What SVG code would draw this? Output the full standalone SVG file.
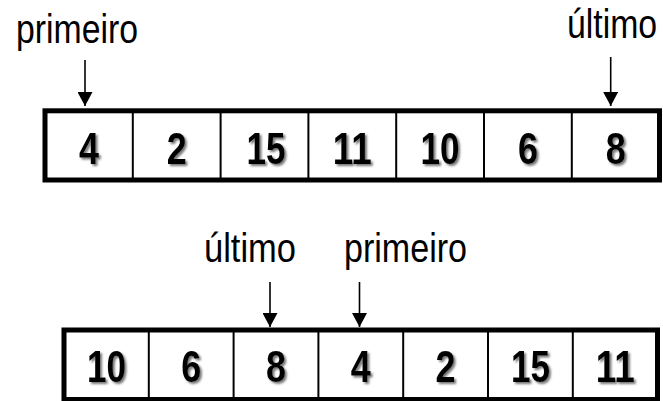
<svg xmlns="http://www.w3.org/2000/svg" width="663" height="401" viewBox="0 0 663 401">
<style>
.lbl{font-family:"Liberation Sans",Arial,sans-serif;font-size:40px;fill:#000}
.num{font-family:"Liberation Sans",Arial,sans-serif;font-size:45px;font-weight:bold;fill:#000;text-anchor:middle;filter:url(#sh)}
.outer{fill:#fff;stroke:#000;stroke-width:5}
.div{stroke:#000;stroke-width:2}
.arr{stroke:#000;stroke-width:1.6;fill:none;marker-end:url(#ah)}
</style>
<defs>
<filter id="sh" x="-30%" y="-30%" width="160%" height="160%">
<feDropShadow dx="2" dy="2" stdDeviation="1.2" flood-color="#555" flood-opacity="0.8"/>
</filter>
<marker id="ah" markerUnits="userSpaceOnUse" markerWidth="16" markerHeight="15" refX="14" refY="7.5" orient="auto">
<path d="M0,0 L14,7.5 L0,15 Z" fill="#000"/>
</marker>
</defs>
<rect width="663" height="401" fill="#fff"/>

<g id="array1">
<rect class="outer" x="45" y="110.8" width="614.5" height="69.2"/>
<g class="div">
<line x1="132.8" y1="110.8" x2="132.8" y2="180"/>
<line x1="220.6" y1="110.8" x2="220.6" y2="180"/>
<line x1="308.4" y1="110.8" x2="308.4" y2="180"/>
<line x1="396.2" y1="110.8" x2="396.2" y2="180"/>
<line x1="484" y1="110.8" x2="484" y2="180"/>
<line x1="571.8" y1="110.8" x2="571.8" y2="180"/>
</g>
<g id="a1c0"><text class="num" x="88.9" y="164" textLength="20" lengthAdjust="spacingAndGlyphs">4</text></g>
<g id="a1c1"><text class="num" x="176.7" y="164" textLength="20" lengthAdjust="spacingAndGlyphs">2</text></g>
<g id="a1c2"><text class="num" x="266" y="164" textLength="39" lengthAdjust="spacingAndGlyphs">15</text></g>
<g id="a1c3"><text class="num" x="352.3" y="164" textLength="39" lengthAdjust="spacingAndGlyphs">11</text></g>
<g id="a1c4"><text class="num" x="440.1" y="164" textLength="39" lengthAdjust="spacingAndGlyphs">10</text></g>
<g id="a1c5"><text class="num" x="527.9" y="164" textLength="20" lengthAdjust="spacingAndGlyphs">6</text></g>
<g id="a1c6"><text class="num" x="615.7" y="164" textLength="20" lengthAdjust="spacingAndGlyphs">8</text></g>
</g>

<g id="array2">
<rect class="outer" x="64" y="330" width="593.5" height="69.5"/>
<g class="div">
<line x1="148.8" y1="330" x2="148.8" y2="399.5"/>
<line x1="233.6" y1="330" x2="233.6" y2="399.5"/>
<line x1="318.4" y1="330" x2="318.4" y2="399.5"/>
<line x1="403.2" y1="330" x2="403.2" y2="399.5"/>
<line x1="488" y1="330" x2="488" y2="399.5"/>
<line x1="572.8" y1="330" x2="572.8" y2="399.5"/>
</g>
<g id="a2c0"><text class="num" x="106.4" y="382" textLength="39" lengthAdjust="spacingAndGlyphs">10</text></g>
<g id="a2c1"><text class="num" x="191.2" y="382" textLength="20" lengthAdjust="spacingAndGlyphs">6</text></g>
<g id="a2c2"><text class="num" x="276" y="382" textLength="20" lengthAdjust="spacingAndGlyphs">8</text></g>
<g id="a2c3"><text class="num" x="360.8" y="382" textLength="20" lengthAdjust="spacingAndGlyphs">4</text></g>
<g id="a2c4"><text class="num" x="445.6" y="382" textLength="20" lengthAdjust="spacingAndGlyphs">2</text></g>
<g id="a2c5"><text class="num" x="530.4" y="382" textLength="39" lengthAdjust="spacingAndGlyphs">15</text></g>
<g id="a2c6"><text class="num" x="615.2" y="382" textLength="39" lengthAdjust="spacingAndGlyphs">11</text></g>
</g>

<g id="lbl-primeiro-1"><text class="lbl" x="16" y="43" textLength="122" lengthAdjust="spacingAndGlyphs">primeiro</text></g>
<g id="lbl-ultimo-1"><text class="lbl" transform="translate(567,38) scale(0.845,1)" x="0" y="0">último</text></g>
<g id="lbl-ultimo-2"><text class="lbl" x="204" y="262" textLength="92" lengthAdjust="spacingAndGlyphs">último</text></g>
<g id="lbl-primeiro-2"><text class="lbl" x="344" y="262" textLength="123" lengthAdjust="spacingAndGlyphs">primeiro</text></g>

<g id="connectors">
<line class="arr" x1="85" y1="60" x2="85" y2="106"/>
<line class="arr" x1="610.7" y1="57" x2="610.7" y2="106"/>
<line class="arr" x1="270" y1="282" x2="270" y2="327"/>
<line class="arr" x1="359.5" y1="282" x2="359.5" y2="327"/>
</g>
</svg>
